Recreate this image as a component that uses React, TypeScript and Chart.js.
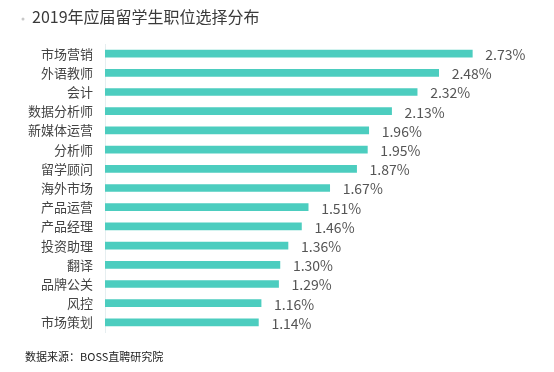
import React, { useEffect, useRef } from "react";
import { Chart, registerables } from "chart.js";

Chart.register(...registerables);

const TITLE = "2019年应届留学生职位选择分布";
const SOURCE = "数据来源：BOSS直聘研究院";
const categories = [
  "市场营销", "外语教师", "会计", "数据分析师", "新媒体运营",
  "分析师", "留学顾问", "海外市场", "产品运营", "产品经理",
  "投资助理", "翻译", "品牌公关", "风控", "市场策划",
];
const values = [2.73, 2.48, 2.32, 2.13, 1.96, 1.95, 1.87, 1.67, 1.51, 1.46, 1.36, 1.3, 1.29, 1.16, 1.14];
const valueLabels = ["2.73%", "2.48%", "2.32%", "2.13%", "1.96%", "1.95%", "1.87%", "1.67%", "1.51%", "1.46%", "1.36%", "1.30%", "1.29%", "1.16%", "1.14%"];

const CJK = '"Noto Sans CJK SC", "Noto Sans", sans-serif';

export default function App() {
  const ref = useRef<HTMLCanvasElement | null>(null);
  useEffect(() => {
    if (!ref.current) return;
    const labelsPlugin = {
      id: "valueLabels",
      afterDatasetsDraw(chart: any) {
        const ctx = chart.ctx;
        const meta = chart.getDatasetMeta(0);
        ctx.save();
        ctx.font = `14px ${CJK}`;
        ctx.fillStyle = "#555555";
        ctx.textBaseline = "middle";
        ctx.textAlign = "left";
        meta.data.forEach((bar: any, i: number) => {
          ctx.fillText(valueLabels[i], bar.x + 13, bar.y + 1);
        });
        ctx.restore();
      },
      afterDraw(chart: any) {
        const ctx = chart.ctx;
        ctx.save();
        ctx.fillStyle = "#c8c8c8";
        ctx.beginPath();
        ctx.arc(23, 19, 1.5, 0, Math.PI * 2);
        ctx.fill();
        ctx.font = `16px ${CJK}`;
        ctx.fillStyle = "#3a3a3a";
        ctx.textBaseline = "middle";
        ctx.textAlign = "left";
        ctx.fillText(TITLE, 32, 17);
        ctx.font = `11px ${CJK}`;
        ctx.fillStyle = "#222222";
        ctx.fillText(SOURCE, 25, 357);
        ctx.restore();
      },
    };
    const chart = new Chart(ref.current, {
      type: "bar",
      data: {
        labels: categories,
        datasets: [
          {
            data: values,
            backgroundColor: "#4ccdbf",
            barThickness: 7,
          },
        ],
      },
      options: {
        indexAxis: "y",
        responsive: false,
        animation: false,
        layout: { padding: { top: 44, bottom: 40, left: 0, right: 5 } },
        plugins: { legend: { display: false }, tooltip: { enabled: false }, title: { display: false } },
        scales: {
          x: { display: false, min: 0, max: 3.3 },
          y: {
            grid: { display: false, drawTicks: false },
            border: { display: true, color: "#e6eef0", width: 1 },
            ticks: {
              padding: 12,
              color: "#444444",
              font: { family: CJK, size: 13 },
            },
            afterFit(scale: any) {
              scale.width = 105;
            },
          },
        },
      },
      plugins: [labelsPlugin],
    });
    return () => chart.destroy();
  }, []);
  return (
    <div style={{ position: "absolute", left: 0, top: 0, width: 554, height: 372, background: "#fff" }}>
      <canvas ref={ref} width={554} height={372} style={{ width: 554, height: 372 }} />
    </div>
  );
}
